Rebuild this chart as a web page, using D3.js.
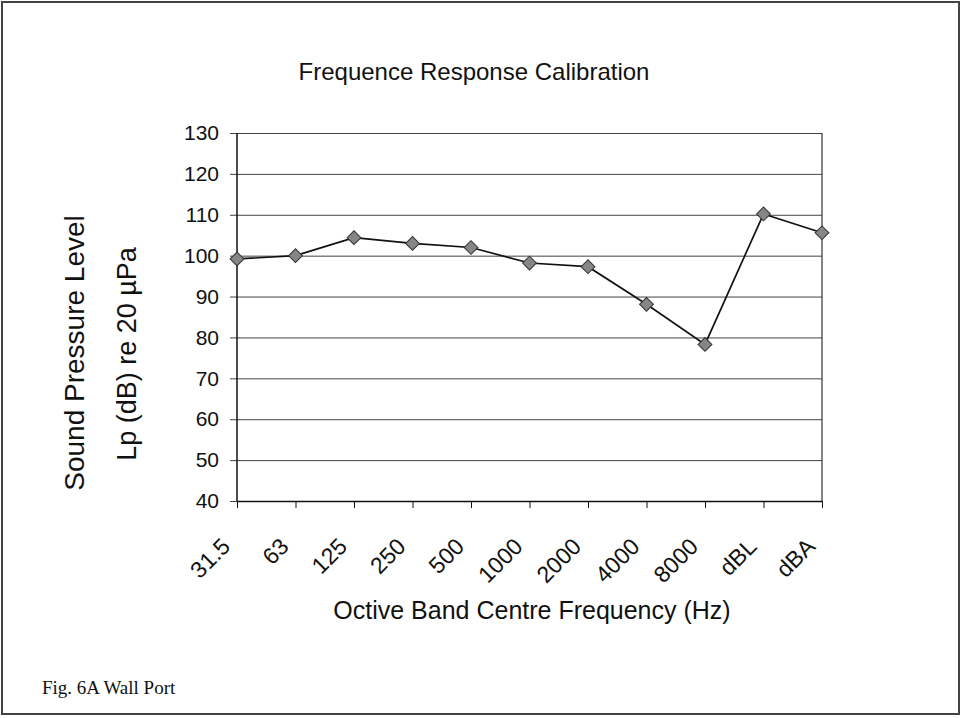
<!DOCTYPE html>
<html>
<head>
<meta charset="utf-8">
<script src="https://cdn.jsdelivr.net/npm/d3@7"></script>
<style>
  body { margin: 0; background: #fff; }
  text { font-family: Arial, "Liberation Sans", sans-serif; fill: #111; }
</style>
</head>
<body>
<div id="chart"></div>
<script>
// chart data
const categories = ["31.5", "63", "125", "250", "500", "1000", "2000", "4000", "8000", "dBL", "dBA"];
const levels = [99.2, 100, 104.4, 103, 102, 98.2, 97.3, 88.1, 78.3, 110.2, 105.6];
const yTicks = [40, 50, 60, 70, 80, 90, 100, 110, 120, 130];

const W = 962, H = 718;
const margin = { top: 133, right: 140, bottom: 217, left: 237 };
const width = W - margin.left - margin.right;
const height = H - margin.top - margin.bottom;

const svg = d3.select("#chart")
    .append("svg")
    .attr("width", W)
    .attr("height", H);

// page frame
svg.append("rect")
    .attr("x", 2).attr("y", 2)
    .attr("width", W - 5).attr("height", H - 6)
    .attr("fill", "#fff")
    .attr("stroke", "#444")
    .attr("stroke-width", 2);

const g = svg.append("g")
    .attr("transform", `translate(${margin.left},${margin.top})`);

const x = d3.scalePoint().domain(categories).range([0, width]);
const y = d3.scaleLinear().domain([40, 130]).range([height, 0]);

// gridlines + left ticks
g.append("g")
    .call(d3.axisLeft(y).tickValues(yTicks).tickSize(-width).tickPadding(18).tickSizeOuter(0))
    .call(a => a.select(".domain").remove())
    .call(a => a.selectAll(".tick line")
        .attr("x1", -7)
        .attr("stroke", "#444")
        .attr("stroke-width", 1))
    .call(a => a.selectAll(".tick text")
        .style("font-size", "21px")
        .style("font-family", "Arial, 'Liberation Sans', sans-serif")
        .attr("fill", "#111"));

// right border of plot
g.append("line")
    .attr("x1", width).attr("x2", width)
    .attr("y1", 0).attr("y2", height)
    .attr("stroke", "#333").attr("stroke-width", 1.2);

// y axis line
g.append("line")
    .attr("x1", 0).attr("x2", 0)
    .attr("y1", 0).attr("y2", height)
    .attr("stroke", "#111").attr("stroke-width", 1.5);

// x axis
const xAxis = g.append("g")
    .attr("transform", `translate(0,${height})`)
    .call(d3.axisBottom(x).tickSize(7).tickSizeOuter(0));
xAxis.select(".domain").attr("stroke", "#111").attr("stroke-width", 1.5);
xAxis.selectAll(".tick line").attr("stroke", "#111");
xAxis.selectAll(".tick text")
    .style("font-size", "23px")
    .style("font-family", "Arial, 'Liberation Sans', sans-serif")
    .attr("fill", "#111")
    .attr("text-anchor", "end")
    .attr("y", 0).attr("dy", 0)
    .attr("transform", "translate(-6,47) rotate(-45)");

// line
g.append("path")
    .datum(levels)
    .attr("fill", "none")
    .attr("stroke", "#111")
    .attr("stroke-width", 1.7)
    .attr("d", d3.line()
        .x((d, i) => x(categories[i]))
        .y(d => y(d)));

// diamond markers
g.selectAll(".pt")
    .data(levels)
    .enter().append("path")
    .attr("class", "pt")
    .attr("d", d3.symbol().type(d3.symbolSquare).size(95))
    .attr("transform", (d, i) => `translate(${x(categories[i])},${y(d)}) rotate(45)`)
    .attr("fill", "#868686")
    .attr("stroke", "#333")
    .attr("stroke-width", 1);

// titles
svg.append("text")
    .attr("x", 474).attr("y", 80)
    .attr("text-anchor", "middle")
    .style("font-size", "24px")
    .text("Frequence Response Calibration");

svg.append("text")
    .attr("x", 532).attr("y", 619)
    .attr("text-anchor", "middle")
    .style("font-size", "25px")
    .text("Octive Band Centre Frequency (Hz)");

svg.append("text")
    .attr("transform", "translate(84,353) rotate(-90)")
    .attr("text-anchor", "middle")
    .style("font-size", "28px")
    .text("Sound Pressure Level");

svg.append("text")
    .attr("transform", "translate(136,354) rotate(-90)")
    .attr("text-anchor", "middle")
    .style("font-size", "27px")
    .text("Lp (dB) re 20 µPa");

svg.append("text")
    .attr("x", 42).attr("y", 694)
    .style("font-family", "'Liberation Serif', 'Times New Roman', serif")
    .style("font-size", "19px")
    .text("Fig. 6A Wall Port");
</script>
</body>
</html>
